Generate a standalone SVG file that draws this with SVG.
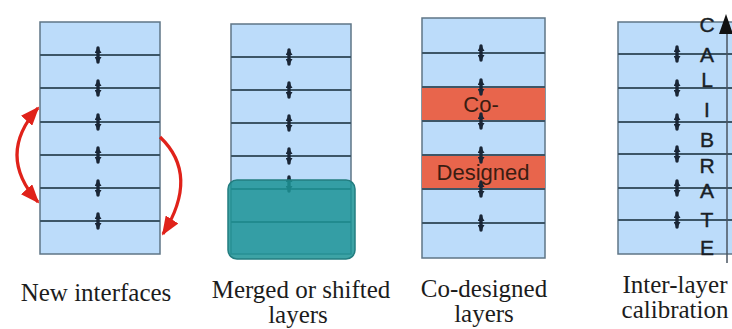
<svg xmlns="http://www.w3.org/2000/svg" width="732" height="329" viewBox="0 0 732 329">
<style>
.stack{fill:#bcdcfa;stroke:#5f7686;stroke-width:1.5}
.ln{stroke:#3d5667;stroke-width:2}
.cn{stroke:#1a2636;stroke-width:3.4;stroke-linecap:round;marker-start:url(#ca);marker-end:url(#ca)}
.red{fill:none;stroke:#e0221a;stroke-width:3.2}
.lbl{font-family:"Liberation Serif","Times New Roman",serif;font-size:25px;fill:#1c1c1c;text-anchor:middle}
.band{font-family:"Liberation Sans",Arial,sans-serif;font-size:22px;fill:#3b1d12;text-anchor:middle}
.cal{font-family:"Liberation Sans",Arial,sans-serif;font-size:21px;fill:#1a1f26;text-anchor:middle;stroke:#1a1f26;stroke-width:0.4}
</style>
<defs>
<marker id="ca" viewBox="0 0 6 6" refX="5" refY="3" markerWidth="6" markerHeight="7" markerUnits="userSpaceOnUse" orient="auto-start-reverse" preserveAspectRatio="none"><path d="M0,0 L6,3 L0,6 z" fill="#1a2636"/></marker>
<marker id="ra" viewBox="0 0 10 10" refX="9" refY="5" markerWidth="19" markerHeight="15" markerUnits="userSpaceOnUse" orient="auto-start-reverse" preserveAspectRatio="none"><path d="M0,0 L10,5 L0,10 z" fill="#e0221a"/></marker>
</defs>

<g id="stack-new-interfaces">
<rect class="stack" x="40" y="22" width="120" height="232"/>
<g class="ln"><line x1="40" y1="55" x2="160" y2="55"/><line x1="40" y1="88" x2="160" y2="88"/><line x1="40" y1="122" x2="160" y2="122"/><line x1="40" y1="155" x2="160" y2="155"/><line x1="40" y1="188" x2="160" y2="188"/><line x1="40" y1="221" x2="160" y2="221"/></g>
</g>

<g id="stack-merged">
<rect class="stack" x="231" y="24" width="120" height="230"/>
<g class="ln"><line x1="231" y1="57" x2="351" y2="57"/><line x1="231" y1="90" x2="351" y2="90"/><line x1="231" y1="123" x2="351" y2="123"/><line x1="231" y1="156" x2="351" y2="156"/><line x1="231" y1="189" x2="351" y2="189"/><line x1="231" y1="222" x2="351" y2="222"/></g>
</g>

<g id="stack-codesigned">
<rect class="stack" x="422" y="18" width="123" height="240"/>
<rect x="422" y="87" width="123" height="34" fill="#e8654c"/>
<rect x="422" y="155" width="123" height="34" fill="#e8654c"/>
<g class="ln"><line x1="422" y1="53" x2="545" y2="53"/><line x1="422" y1="87" x2="545" y2="87"/><line x1="422" y1="121" x2="545" y2="121"/><line x1="422" y1="155" x2="545" y2="155"/><line x1="422" y1="189" x2="545" y2="189"/><line x1="422" y1="223" x2="545" y2="223"/></g>
</g>

<g id="stack-calibration">
<rect class="stack" x="618" y="22" width="130" height="232"/>
<g class="ln"><line x1="618" y1="54" x2="732" y2="54"/><line x1="618" y1="88" x2="732" y2="88"/><line x1="618" y1="122" x2="732" y2="122"/><line x1="618" y1="154" x2="732" y2="154"/><line x1="618" y1="188" x2="732" y2="188"/><line x1="618" y1="220" x2="732" y2="220"/></g>
</g>

<g id="connectors">
<line class="cn" x1="98" y1="48" x2="98" y2="62"/>
<line class="cn" x1="98" y1="81" x2="98" y2="95"/>
<line class="cn" x1="98" y1="115" x2="98" y2="129"/>
<line class="cn" x1="98" y1="148" x2="98" y2="162"/>
<line class="cn" x1="98" y1="181" x2="98" y2="195"/>
<line class="cn" x1="98" y1="214" x2="98" y2="228"/>

<line class="cn" x1="289" y1="50" x2="289" y2="64"/>
<line class="cn" x1="289" y1="83" x2="289" y2="97"/>
<line class="cn" x1="289" y1="116" x2="289" y2="130"/>
<line class="cn" x1="289" y1="149" x2="289" y2="163"/>
<line class="cn" x1="289" y1="177" x2="289" y2="191"/>

<line class="cn" x1="481" y1="46" x2="481" y2="60"/>
<line class="cn" x1="481" y1="80" x2="481" y2="94"/>
<line class="cn" x1="481" y1="114" x2="481" y2="128"/>
<line class="cn" x1="481" y1="148" x2="481" y2="162"/>
<line class="cn" x1="481" y1="182" x2="481" y2="196"/>
<line class="cn" x1="481" y1="216" x2="481" y2="230"/>

<line class="cn" x1="677" y1="47" x2="677" y2="61"/>
<line class="cn" x1="677" y1="81" x2="677" y2="95"/>
<line class="cn" x1="677" y1="115" x2="677" y2="129"/>
<line class="cn" x1="677" y1="147" x2="677" y2="161"/>
<line class="cn" x1="677" y1="181" x2="677" y2="195"/>
<line class="cn" x1="677" y1="213" x2="677" y2="227"/>

<path class="red" d="M38,108 Q -4,155 38,202" marker-start="url(#ra)" marker-end="url(#ra)"/>
<path class="red" d="M160,137 Q 200,175 163,234" marker-end="url(#ra)"/>

<line x1="727" y1="28" x2="727" y2="263" stroke="#4a5560" stroke-width="1.5"/>
<path d="M726,14 L719,34 L733,34 z" fill="#111"/>
</g>

<g id="merged-block">
<rect x="228" y="180" width="127" height="79" rx="9" fill="#1d9496" fill-opacity="0.86" stroke="#237d80" stroke-width="1.5"/>
</g>

<g id="band-labels">
<text class="band" x="481" y="112">Co-</text>
<text class="band" x="483" y="180">Designed</text>
</g>

<g id="calibrate-letters">
<text class="cal" x="707" y="32">C</text>
<text class="cal" x="707" y="62">A</text>
<text class="cal" x="707" y="87">L</text>
<text class="cal" x="707" y="117">I</text>
<text class="cal" x="707" y="147">B</text>
<text class="cal" x="707" y="173">R</text>
<text class="cal" x="707" y="198">A</text>
<text class="cal" x="707" y="227">T</text>
<text class="cal" x="707" y="255">E</text>
</g>

<g id="captions">
<text class="lbl" x="96" y="301">New interfaces</text>
<text class="lbl" x="301" y="298">Merged or shifted</text>
<text class="lbl" x="298" y="323">layers</text>
<text class="lbl" x="484" y="297">Co-designed</text>
<text class="lbl" x="484" y="322">layers</text>
<text class="lbl" x="675" y="293">Inter-layer</text>
<text class="lbl" x="675" y="318">calibration</text>
</g>
</svg>
